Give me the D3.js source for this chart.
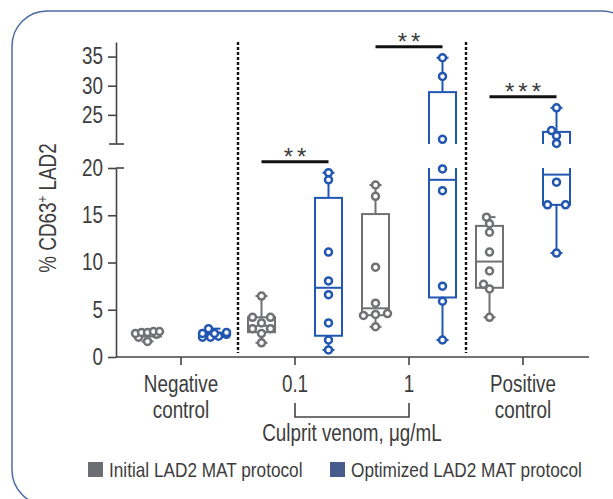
<!DOCTYPE html>
<html>
<head>
<meta charset="utf-8">
<script src="https://d3js.org/d3.v7.min.js"></script>
<style>
body { margin: 0; background: #fff; }
svg { display: block; }
text { font-family: "Liberation Sans", Arial, sans-serif; fill: #3d3d3d; }
.axis path, .axis line { stroke: #444; stroke-width: 1.6; }
.axis text { font-size: 23px; fill: #3d3d3d; }
</style>
</head>
<body>
<svg width="613" height="499"></svg>
<script>

// categories along x, two protocols per category
var categories = ["Negative control", "0.1", "1", "Positive control"];
var series = ["Initial LAD2 MAT protocol", "Optimized LAD2 MAT protocol"];

// % CD63+ LAD2, eight replicates per box
var initialValues = [
  [2.7, 2.7, 2.6, 2.6, 2.5, 2.4, 2.1, 1.65],
  [6.45, 4.2, 4.2, 3.6, 3.0, 3.0, 2.5, 1.5],
  [18.2, 17.0, 9.5, 5.7, 4.6, 4.5, 4.4, 3.2],
  [14.8, 14.1, 13.2, 11.1, 9.1, 7.7, 7.2, 4.2]
];
var optimizedValues = [
  [3.0, 2.6, 2.5, 2.5, 2.4, 2.2, 2.1, 2.1],
  [19.5, 18.75, 11.1, 8.05, 6.6, 3.6, 1.8, 0.75],
  [34.8, 31.6, 20.8, 19.9, 17.6, 7.5, 5.9, 1.8],
  [26.2, 22.3, 21.4, 20.1, 18.5, 16.1, 16.1, 11.0]
];
var significance = ["", "**", "**", "***"];

var lowerTicks = [0, 5, 10, 15, 20];
var upperTicks = [25, 30, 35];
var breakAt = 20;

var colors = ["#707173", "#2157b0"];
var legendColors = ["#6d6e71", "#475c8c"];

// the original face is a condensed sans, so squeeze text horizontally
var squeeze = 0.82;

var svg = d3.select("svg");

function label(x, y, str, size, anchor, rotate) {
  var g = svg.append("g")
      .attr("transform", "translate(" + x + "," + y + ")" + (rotate ? " rotate(" + rotate + ")" : "") + " scale(" + squeeze + ",1)");
  return g.append("text")
      .attr("text-anchor", anchor || "start")
      .style("font-size", size + "px")
      .text(str);
}

// rounded frame
svg.append("rect")
    .attr("x", 12).attr("y", 11)
    .attr("width", 625).attr("height", 494)
    .attr("rx", 35)
    .attr("fill", "none")
    .attr("stroke", "#4d6aa3")
    .attr("stroke-width", 1.5);

var x = d3.scaleBand().domain(categories).range([124, 580]);
var xs = d3.scalePoint().domain(series).range([-33.5, 33.5]);
var yLow = d3.scaleLinear().domain([0, breakAt]).range([357, 168]);
var yHigh = d3.scaleLinear().domain([breakAt, 37.5]).range([144, 42]);
function yAny(v) { return v <= breakAt ? yLow(v) : yHigh(v); }

var defs = svg.append("defs");
defs.append("clipPath").attr("id", "lowClip")
  .append("rect").attr("x", 0).attr("y", yLow(breakAt)).attr("width", 613).attr("height", 200);
defs.append("clipPath").attr("id", "highClip")
  .append("rect").attr("x", 0).attr("y", 0).attr("width", 613).attr("height", yHigh(breakAt));

// quartiles the GraphPad way (n + 1 basis)
function quart(sorted, p) {
  var pos = p * (sorted.length + 1) - 1;
  pos = Math.max(0, Math.min(sorted.length - 1, pos));
  var lo = Math.floor(pos), hi = Math.ceil(pos);
  return sorted[lo] + (pos - lo) * (sorted[hi] - sorted[lo]);
}

var table = [];
categories.forEach(function(c, i) {
  series.forEach(function(s, j) {
    var vals = [initialValues, optimizedValues][j][i].slice().sort(d3.ascending);
    table.push({
      cat: c, ser: s, j: j, vals: vals,
      cx: x(c) + x.bandwidth() / 2 + xs(s),
      min: vals[0], max: vals[vals.length - 1],
      q1: quart(vals, 0.25), med: quart(vals, 0.5), q3: quart(vals, 0.75)
    });
  });
});

// dashed separators
[categories[1], categories[3]].forEach(function(c) {
  svg.append("line")
      .attr("x1", x(c)).attr("x2", x(c))
      .attr("y1", 42).attr("y2", 353)
      .attr("stroke", "#111")
      .attr("stroke-width", 2.4)
      .attr("stroke-dasharray", "3,2");
});

// boxes drawn in both panels, clipped at the break
[{ sc: yLow, clip: "lowClip" }, { sc: yHigh, clip: "highClip" }].forEach(function(p) {
  var g = svg.append("g").attr("clip-path", "url(#" + p.clip + ")");
  var box = g.selectAll(".box").data(table).enter().append("g")
      .attr("stroke", d => colors[d.j])
      .attr("stroke-width", 2)
      .attr("fill", "none");
  box.append("line").attr("x1", d => d.cx).attr("x2", d => d.cx)
      .attr("y1", d => p.sc(d.min)).attr("y2", d => p.sc(d.q1));
  box.append("line").attr("x1", d => d.cx).attr("x2", d => d.cx)
      .attr("y1", d => p.sc(d.q3)).attr("y2", d => p.sc(d.max));
  box.append("line").attr("x1", d => d.cx - 6).attr("x2", d => d.cx + 6)
      .attr("y1", d => p.sc(d.min)).attr("y2", d => p.sc(d.min));
  box.append("line").attr("x1", d => d.cx - 6).attr("x2", d => d.cx + 6)
      .attr("y1", d => p.sc(d.max)).attr("y2", d => p.sc(d.max));
  box.append("rect")
      .attr("x", d => d.cx - 13.5).attr("width", 27)
      .attr("y", d => p.sc(d.q3))
      .attr("height", d => p.sc(d.q1) - p.sc(d.q3));
  box.append("line").attr("x1", d => d.cx - 13.5).attr("x2", d => d.cx + 13.5)
      .attr("y1", d => p.sc(d.med)).attr("y2", d => p.sc(d.med));
});

// simple row-based swarm for the points
function swarm(vals) {
  var pts = vals.map(v => ({ v: v, y: yAny(v), dx: 0 })).sort((a, b) => b.y - a.y);
  var placed = [], minD = 7;
  function clashes(px, py) {
    return placed.some(q => Math.hypot(px - q.dx, py - q.y) < minD);
  }
  var i = 0;
  while (i < pts.length) {
    var j = i + 1;
    while (j < pts.length && pts[i].y - pts[j].y < 3) j++;
    var row = pts.slice(i, j), k = row.length;
    if (k === 1) {
      var p = row[0], found = false;
      for (var t = 0; t <= 12 && !found; t++) {
        var cands = t ? [-t, t] : [0];
        for (var c = 0; c < cands.length; c++) {
          if (!clashes(cands[c], p.y)) { p.dx = cands[c]; found = true; break; }
        }
      }
    } else {
      var maxSp = 24 / (k - 1);
      var sp = Math.min(18, maxSp);
      var rowClash = function(s) {
        return row.some((q, r) => clashes((r - (k - 1) / 2) * s, q.y));
      };
      while (rowClash(sp) && sp < maxSp) sp += 1;
      row.forEach(function(q, r) { q.dx = (r - (k - 1) / 2) * sp; });
    }
    row.forEach(q => placed.push(q));
    i = j;
  }
  return pts;
}

var pointData = [];
table.forEach(function(d) {
  swarm(d.vals).forEach(function(p) {
    pointData.push({ x: d.cx + p.dx, y: p.y, j: d.j });
  });
});

svg.append("g").selectAll("circle").data(pointData).enter().append("circle")
    .attr("cx", d => d.x).attr("cy", d => d.y)
    .attr("r", 3.5)
    .attr("fill", "#fff")
    .attr("stroke", d => colors[d.j])
    .attr("stroke-width", 2.5);

// significance bars
table.filter(d => d.j === 1).forEach(function(d, i) {
  if (!significance[i]) return;
  var g0 = table.find(t => t.cat === d.cat && t.j === 0);
  var by = yAny(d.max) - 11;
  svg.append("line")
      .attr("x1", g0.cx).attr("x2", d.cx)
      .attr("y1", by).attr("y2", by)
      .attr("stroke", "#111").attr("stroke-width", 3);
  svg.append("text")
      .attr("x", (g0.cx + d.cx) / 2 + 2).attr("y", by + 3)
      .attr("text-anchor", "middle")
      .style("font-size", "24px")
      .style("letter-spacing", "4px")
      .attr("fill", "#222")
      .text(significance[i]);
});

// y axis, lower panel
var yAxisLow = svg.append("g").attr("class", "axis")
    .attr("transform", "translate(116,0)")
    .call(d3.axisLeft(yLow).tickValues(lowerTicks).tickSize(8).tickPadding(5).tickSizeOuter(0));
yAxisLow.append("line")
    .attr("x1", 0).attr("x2", 8)
    .attr("y1", yLow(breakAt)).attr("y2", yLow(breakAt));

// y axis, upper panel
var yAxisHigh = svg.append("g").attr("class", "axis")
    .attr("transform", "translate(116,0)")
    .call(d3.axisLeft(yHigh).tickValues(upperTicks).tickSize(8).tickPadding(5).tickSizeOuter(0));
yAxisHigh.append("line")
    .attr("x1", -7).attr("x2", 8)
    .attr("y1", yHigh(breakAt)).attr("y2", yHigh(breakAt));

svg.selectAll(".axis .tick text")
    .attr("x", -13 / squeeze)
    .attr("transform", "scale(" + squeeze + ",1)");

label(56, 208, "", 23, "middle", -90)
    .call(function(t) {
      t.append("tspan").text("% CD63");
      t.append("tspan").attr("dy", -9).style("font-size", "14px").text("+");
      t.append("tspan").attr("dy", 9).text(" LAD2");
    });

// x axis
var xAxis = svg.append("g").attr("class", "axis")
    .attr("transform", "translate(0,357)")
    .call(d3.axisBottom(x).tickSize(8).tickSizeOuter(0).tickFormat(""));
xAxis.select(".domain").attr("d", "M116,0H589");

categories.forEach(function(c) {
  var cx = x(c) + x.bandwidth() / 2;
  c.split(" ").forEach(function(w, k) {
    label(cx, 392 + k * 26, w, 23, "middle");
  });
});

// bracket for the venom doses
var bx0 = x(categories[1]) + x.bandwidth() / 2, bx1 = x(categories[2]) + x.bandwidth() / 2;
svg.append("path")
    .attr("d", "M" + bx0 + ",403V417H" + bx1 + "V403")
    .attr("fill", "none")
    .attr("stroke", "#444")
    .attr("stroke-width", 1.6);
label((bx0 + bx1) / 2, 441, "Culprit venom, \u03bcg/mL", 23, "middle");

// legend
var legendX = [88, 330];
series.forEach(function(s, j) {
  svg.append("rect")
      .attr("x", legendX[j]).attr("y", 462)
      .attr("width", 15).attr("height", 15)
      .attr("fill", legendColors[j]);
  label(legendX[j] + 21, 477, s, 21, "start");
});

</script>
</body>
</html>
